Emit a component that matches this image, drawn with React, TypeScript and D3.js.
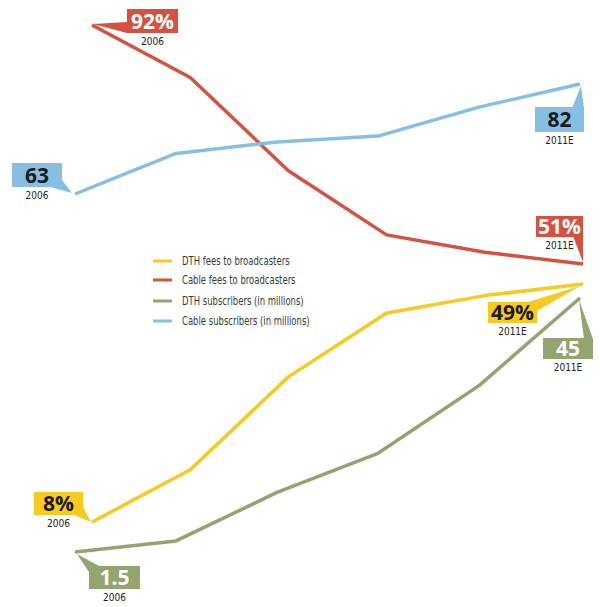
import React from "react";
import * as d3 from "d3";

const years = ["2006", "2007", "2008", "2009", "2010", "2011E"];
const dthFees = [8, 17, 33, 44, 47, 49];
const cableFees = [92, 83, 67, 56, 53, 51];
const dthSubs = [1.5, 3.4, 11.7, 18.4, 30, 45];
const cableSubs = [63, 70, 72, 73, 78, 82];
const legendLabels = [
  "DTH fees to broadcasters",
  "Cable fees to broadcasters",
  "DTH subscribers (in millions)",
  "Cable subscribers (in millions)",
];

const C = {
  yellow: "#f8c91f",
  red: "#d8503f",
  green: "#93a46f",
  blue: "#86bee4",
};

const W = 600;
const H = 607;

const xFees = d3.scalePoint<string>().domain(years).range([92, 583]);
const xSubs = d3.scalePoint<string>().domain(years).range([75, 580]);
const yRed = d3.scaleLinear().domain([51, 92]).range([264, 25]);
const yYellow = d3.scaleLinear().domain([8, 49]).range([522, 284]);
const yBlue = d3.scaleLinear().domain([63, 82]).range([194, 84]);
const yGreen = d3.scaleLinear().domain([1.5, 45]).range([552, 298]);

type Series = {
  values: number[];
  x: d3.ScalePoint<string>;
  y: d3.ScaleLinear<number, number>;
  color: string;
  pct: boolean;
  textColor: string;
};

const series: Series[] = [
  { values: dthFees, x: xFees, y: yYellow, color: C.yellow, pct: true, textColor: "#1b1b1b" },
  { values: cableFees, x: xFees, y: yRed, color: C.red, pct: true, textColor: "#ffffff" },
  { values: dthSubs, x: xSubs, y: yGreen, color: C.green, pct: false, textColor: "#ffffff" },
  { values: cableSubs, x: xSubs, y: yBlue, color: C.blue, pct: false, textColor: "#1b1b1b" },
];

type Callout = { box: [number, number, number, number]; ptr: [number, number][] };
const calloutLayout: { start: Callout; end: Callout }[] = [
  {
    start: { box: [-58, -30, 49, 23], ptr: [[-18, -7], [-9, -15], [-1, 0]] },
    end: { box: [-95, 18, 49, 21], ptr: [[-58, 19], [-46, 27], [-3, 2]] },
  },
  {
    start: { box: [35, -16, 51, 24], ptr: [[35, -3], [1, -1], [35, 8]] },
    end: { box: [-47, -48, 47, 21], ptr: [[-10, -28], [0, -28], [0, -2]] },
  },
  {
    start: { box: [14, 14, 51, 23], ptr: [[2, 2], [14, 20], [24, 14]] },
    end: { box: [-37, 40, 50, 21], ptr: [[-1, 2], [4, 41], [13, 41]] },
  },
  {
    start: { box: [-63, -31, 50, 24], ptr: [[-25, -7], [-13, -14], [-3, -1]] },
    end: { box: [-45, 23, 49, 25], ptr: [[-8, 24], [4, 24], [1, 2]] },
  },
];

function fmt(v: number, pct: boolean) {
  return pct ? `${v}%` : `${v}`;
}

export default function App() {
  const line = (s: Series) =>
    d3
      .line<number>()
      .x((_, i) => s.x(years[i]) as number)
      .y((d) => s.y(d))(s.values) as string;

  const narrow = "'Liberation Sans Narrow', 'DejaVu Sans Condensed', Arial, sans-serif";
  const bold = "'Open Sans', 'Liberation Sans', Arial, sans-serif";

  return (
    <svg
      width={W}
      height={H}
      viewBox={`0 0 ${W} ${H}`}
      style={{ position: "absolute", left: 0, top: 0, background: "#fff" }}
    >
      {series.map((s, i) => (
        <path
          key={"l" + i}
          d={line(s)}
          fill="none"
          stroke={s.color}
          strokeWidth={3.5}
          strokeLinejoin="round"
          strokeLinecap="butt"
        />
      ))}

      {series.map((s, i) =>
        (["start", "end"] as const).map((which) => {
          const idx = which === "start" ? 0 : years.length - 1;
          const px = s.x(years[idx]) as number;
          const py = s.y(s.values[idx]);
          const lay = calloutLayout[i][which];
          const [bx, by, bw, bh] = lay.box;
          const x0 = px + bx;
          const y0 = py + by;
          const cx = x0 + bw / 2;
          return (
            <g key={`c${i}${which}`}>
              <polygon
                points={lay.ptr.map(([dx, dy]) => `${px + dx},${py + dy}`).join(" ")}
                fill={s.color}
              />
              <rect x={x0} y={y0} width={bw} height={bh} fill={s.color} />
              <text
                x={cx}
                y={y0 + bh / 2 + 7.5}
                textAnchor="middle"
                fontFamily={bold}
                fontWeight={700}
                fontSize={21}
                fill={s.textColor}
              >
                {fmt(s.values[idx], s.pct)}
              </text>
              <text
                x={cx}
                y={y0 + bh + 12}
                textAnchor="middle"
                fontFamily={narrow}
                fontSize={10}
                fill="#222"
              >
                {years[idx]}
              </text>
            </g>
          );
        })
      )}

      {legendLabels.map((lbl, i) => {
        const ly = [261, 280, 301, 321][i];
        return (
          <g key={"lg" + i}>
            <line x1={153} x2={172} y1={ly} y2={ly} stroke={series[i].color} strokeWidth={3} />
            <g transform={`translate(182,${ly + 4}) scale(0.82,1)`}>
              <text x={0} y={0} fontFamily={narrow} fontSize={11.5} fill="#3a3a3a">
                {lbl}
              </text>
            </g>
          </g>
        );
      })}
    </svg>
  );
}
